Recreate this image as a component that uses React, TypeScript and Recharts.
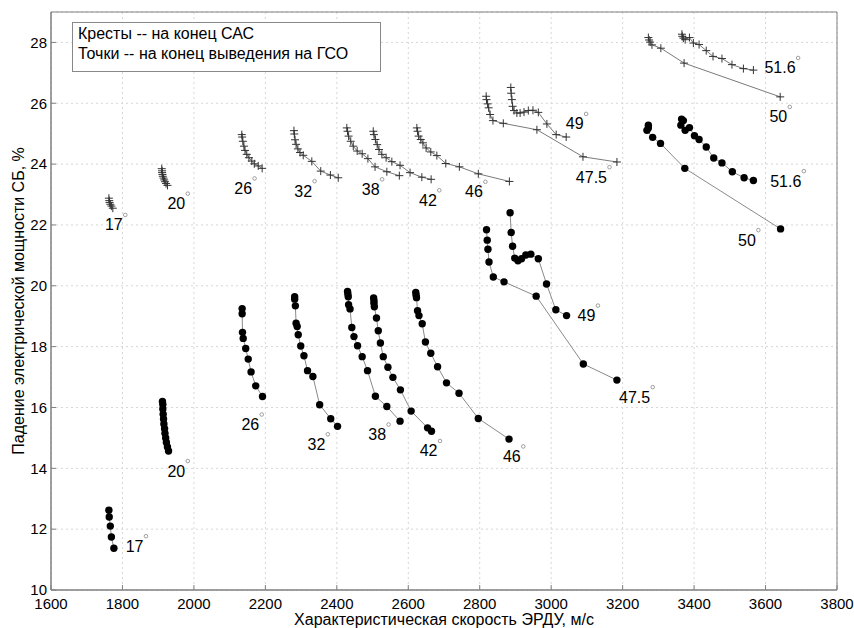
import React from 'react';
import {
  ScatterChart, Scatter, XAxis, YAxis, CartesianGrid, ReferenceArea
} from 'recharts';

// [скорость, падение мощности] — точки (конец выведения на ГСО)
const dots17 = [[1762, 12.62], [1763, 12.40], [1766, 12.10], [1769, 11.74], [1776, 11.37]];
const dots20 = [[1912, 16.20], [1913, 16.10], [1913, 15.95], [1914, 15.78], [1915, 15.62], [1916, 15.46], [1918, 15.30], [1919, 15.15], [1921, 15.00], [1923, 14.85], [1926, 14.70], [1929, 14.57]];
const dots26 = [[2135, 19.25], [2135, 19.08], [2136, 18.47], [2138, 18.27], [2145, 17.94], [2152, 17.59], [2160, 17.17], [2173, 16.71], [2192, 16.36]];
const dots32 = [[2282, 19.64], [2282, 19.56], [2284, 19.34], [2286, 18.77], [2289, 18.66], [2292, 18.39], [2299, 18.02], [2308, 17.70], [2318, 17.21], [2333, 17.02], [2352, 16.09], [2383, 15.63], [2402, 15.38]];
const dots38 = [[2430, 19.81], [2431, 19.73], [2432, 19.64], [2433, 19.38], [2437, 19.24], [2442, 18.63], [2448, 18.33], [2458, 18.03], [2471, 17.67], [2486, 17.21], [2508, 16.37], [2540, 16.03], [2577, 15.55]];
const dots42 = [[2503, 19.60], [2504, 19.51], [2504, 19.43], [2505, 19.31], [2511, 18.94], [2516, 18.52], [2522, 18.12], [2530, 17.67], [2543, 17.32], [2557, 16.99], [2578, 16.58], [2608, 15.88], [2654, 15.33], [2665, 15.22]];
const dots46 = [[2621, 19.78], [2622, 19.69], [2623, 19.61], [2626, 19.18], [2630, 19.02], [2639, 18.75], [2648, 18.15], [2663, 17.78], [2682, 17.34], [2707, 16.81], [2742, 16.47], [2796, 15.64], [2882, 14.96]];
const dots47_5 = [[2819, 21.84], [2821, 21.50], [2823, 21.20], [2826, 20.78], [2838, 20.29], [2868, 20.13], [2958, 19.66], [3090, 17.43], [3184, 16.90]];
const dots49 = [[2885, 22.40], [2888, 21.75], [2892, 21.30], [2898, 20.91], [2907, 20.82], [2917, 20.89], [2929, 21.01], [2943, 21.04], [2964, 20.89], [2987, 20.06], [3013, 19.21], [3043, 19.02]];
const dots50 = [[3272, 25.28], [3272, 25.19], [3268, 25.11], [3284, 24.88], [3306, 24.68], [3374, 23.86], [3642, 21.87]];
const dots51_6 = [[3365, 25.48], [3370, 25.43], [3363, 25.28], [3375, 25.11], [3387, 25.20], [3401, 24.93], [3414, 24.81], [3434, 24.56], [3455, 24.20], [3478, 24.04], [3507, 23.75], [3540, 23.55], [3566, 23.46]];

// кресты (конец САС)
const cross17 = [[1762, 22.88], [1763, 22.80], [1764, 22.74], [1766, 22.68], [1769, 22.62], [1773, 22.55]];
const cross20 = [[1910, 23.85], [1911, 23.78], [1911, 23.72], [1912, 23.66], [1913, 23.60], [1915, 23.54], [1917, 23.48], [1919, 23.42], [1922, 23.36], [1926, 23.30]];
const cross26 = [[2134, 24.97], [2135, 24.89], [2137, 24.75], [2140, 24.59], [2143, 24.45], [2148, 24.32], [2154, 24.21], [2162, 24.10], [2169, 24.01], [2180, 23.94], [2191, 23.86]];
const cross32 = [[2280, 25.10], [2281, 24.99], [2283, 24.80], [2286, 24.65], [2291, 24.50], [2297, 24.38], [2306, 24.29], [2330, 24.09], [2355, 23.77], [2382, 23.64], [2404, 23.55]];
const cross38 = [[2428, 25.19], [2430, 25.08], [2433, 24.92], [2439, 24.75], [2446, 24.59], [2457, 24.43], [2471, 24.34], [2487, 24.18], [2507, 23.91], [2540, 23.75], [2575, 23.62]];
const cross42 = [[2502, 25.08], [2504, 24.97], [2508, 24.81], [2513, 24.64], [2518, 24.48], [2526, 24.32], [2538, 24.21], [2554, 24.08], [2577, 23.96], [2605, 23.72], [2638, 23.57], [2664, 23.50]];
const cross46 = [[2624, 25.19], [2626, 25.08], [2629, 24.92], [2635, 24.81], [2641, 24.70], [2650, 24.53], [2663, 24.40], [2680, 24.28], [2705, 24.02], [2743, 23.91], [2796, 23.68], [2883, 23.43]];
const cross47_5 = [[2818, 26.23], [2819, 26.12], [2822, 25.98], [2825, 25.85], [2829, 25.63], [2837, 25.43], [2866, 25.34], [2960, 25.13], [3089, 24.24], [3184, 24.07]];
const cross49 = [[2887, 26.52], [2888, 26.33], [2890, 26.12], [2892, 25.90], [2896, 25.76], [2904, 25.68], [2913, 25.68], [2924, 25.71], [2936, 25.76], [2949, 25.77], [2964, 25.70], [2988, 25.32], [3014, 24.97], [3042, 24.89]];
const cross50 = [[3272, 28.16], [3274, 28.08], [3277, 28.01], [3282, 27.92], [3307, 27.81], [3372, 27.32], [3641, 26.21]];
const cross51_6 = [[3366, 28.27], [3367, 28.20], [3370, 28.14], [3375, 28.09], [3387, 28.16], [3398, 27.98], [3414, 27.93], [3434, 27.73], [3453, 27.54], [3478, 27.47], [3506, 27.27], [3538, 27.14], [3566, 27.09]];

// подписи наклонений: [текст, x левого края, y середины]
const crossLabels = [['17', 1751, 22.0], ['20', 1926, 22.7], ['26', 2113, 23.2], ['32', 2281, 23.11], ['38', 2470, 23.17], ['42', 2630, 22.81], ['46', 2759, 23.09], ['47.5', 3069, 23.57], ['49', 3041, 25.32], ['51.6', 3597, 27.16], ['50', 3611, 25.55]];
const dotLabels = [['17', 1809, 11.44], ['20', 1926, 13.91], ['26', 2133, 15.44], ['32', 2318, 14.79], ['38', 2488, 15.11], ['42', 2632, 14.57], ['46', 2865, 14.39], ['47.5', 3190, 16.34], ['49', 3074, 19.02], ['51.6', 3613, 23.44], ['50', 3523, 21.5]];

const xTicks = [1600, 1800, 2000, 2200, 2400, 2600, 2800, 3000, 3200, 3400, 3600, 3800];
const yTicks = [10, 12, 14, 16, 18, 20, 22, 24, 26, 28];

const dotSeries = [dots17, dots20, dots26, dots32, dots38, dots42, dots46, dots47_5, dots49, dots50, dots51_6];
const crossSeries = [cross17, cross20, cross26, cross32, cross38, cross42, cross46, cross47_5, cross49, cross50, cross51_6];

const FONT = '"Liberation Sans", Arial, sans-serif';

const toPts = (arr: number[][]) => arr.map(([x, y]) => ({ x, y }));
const toLabels = (arr: any[][]) => arr.map(([t, x, y]) => ({ t, x, y }));

const CrossMark = (p: any) => (
  <path d={`M${p.cx - 4},${p.cy}h8M${p.cx},${p.cy - 4}v8`} stroke="#333" strokeWidth={1} fill="none" />
);
const DotMark = (p: any) => <circle cx={p.cx} cy={p.cy} r={3.7} fill="#000" />;

const AngleLabel = (p: any) => {
  const t: string = p.t ?? p.payload?.t ?? '';
  const w = t.split('').reduce((s, c) => s + (c === '.' ? 4.45 : 8.9), 0);
  return (
    <g>
      <text x={p.cx} y={p.cy} dominantBaseline="central" fontSize={16} fontFamily={FONT} fill="#000">{t}</text>
      <circle cx={p.cx + w + 2.5} cy={p.cy - 10} r={1.8} fill="none" stroke="#888" strokeWidth={0.8} />
    </g>
  );
};

// tick labels with short inward tick marks (like MATLAB)
const XTick = (p: any) => {
  const axisY = p.y - 8;
  return (
    <g>
      <line x1={p.x} x2={p.x} y1={axisY} y2={axisY - 5} stroke="#808080" />
      <text x={p.x} y={p.y} dy="0.71em" textAnchor="middle" fontSize={15} fontFamily={FONT} fill="#000">{p.payload.value}</text>
    </g>
  );
};
const YTick = (p: any) => {
  const axisX = p.x + 4;
  return (
    <g>
      <line x1={axisX} x2={axisX + 5} y1={p.y} y2={p.y} stroke="#808080" />
      <text x={p.x} y={p.y} dy="0.355em" textAnchor="end" fontSize={15} fontFamily={FONT} fill="#000">{p.payload.value}</text>
    </g>
  );
};

export default function App() {
  return (
    <div style={{ position: 'absolute', left: 0, top: 0, width: 854, height: 628, background: '#fff', fontFamily: FONT }}>
      <ScatterChart width={854} height={628} margin={{ top: 12, right: 17, left: 0, bottom: 0 }}>
        <CartesianGrid stroke="#d6d6d6" strokeDasharray="2 3" />
        <XAxis
          type="number" dataKey="x" domain={[1600, 3800]} ticks={xTicks} allowDataOverflow
          height={38} tickLine={false} tickSize={6} tickMargin={2} stroke="#808080"
          tick={<XTick />}
          label={{ value: 'Характеристическая скорость ЭРДУ, м/с', position: 'insideBottom', offset: 3, fill: '#000', fontSize: 16, fontFamily: FONT }}
        />
        <YAxis
          type="number" dataKey="y" domain={[10, 29]} ticks={yTicks} allowDataOverflow
          width={51} tickLine={false} tickSize={2} tickMargin={2} stroke="#808080"
          tick={<YTick />}
          label={{ value: 'Падение электрической мощности СБ, %', angle: -90, position: 'insideLeft', offset: 18, fill: '#000', fontSize: 16, fontFamily: FONT, style: { textAnchor: 'middle' } }}
        />
        <ReferenceArea x1={1600} x2={3800} y1={10} y2={29} fill="none" stroke="#808080" strokeWidth={1} />
        {crossSeries.map((s, i) => (
          <Scatter key={`c${i}`} data={toPts(s)} line={{ stroke: '#7a7a7a', strokeWidth: 1 }} shape={CrossMark} isAnimationActive={false} />
        ))}
        {dotSeries.map((s, i) => (
          <Scatter key={`d${i}`} data={toPts(s)} line={{ stroke: '#8a8a8a', strokeWidth: 1 }} shape={DotMark} isAnimationActive={false} />
        ))}
        <Scatter data={toLabels(crossLabels)} shape={AngleLabel} isAnimationActive={false} />
        <Scatter data={toLabels(dotLabels)} shape={AngleLabel} isAnimationActive={false} />
      </ScatterChart>
      <div style={{
        position: 'absolute', left: 72, top: 22, width: 309, height: 50, border: '1px solid #888',
        background: '#fff', fontSize: 16, lineHeight: '19.7px', paddingLeft: 5, boxSizing: 'border-box', paddingTop: 1
      }}>
        <div>Кресты -- на конец САС</div>
        <div>Точки -- на конец выведения на ГСО</div>
      </div>
    </div>
  );
}
